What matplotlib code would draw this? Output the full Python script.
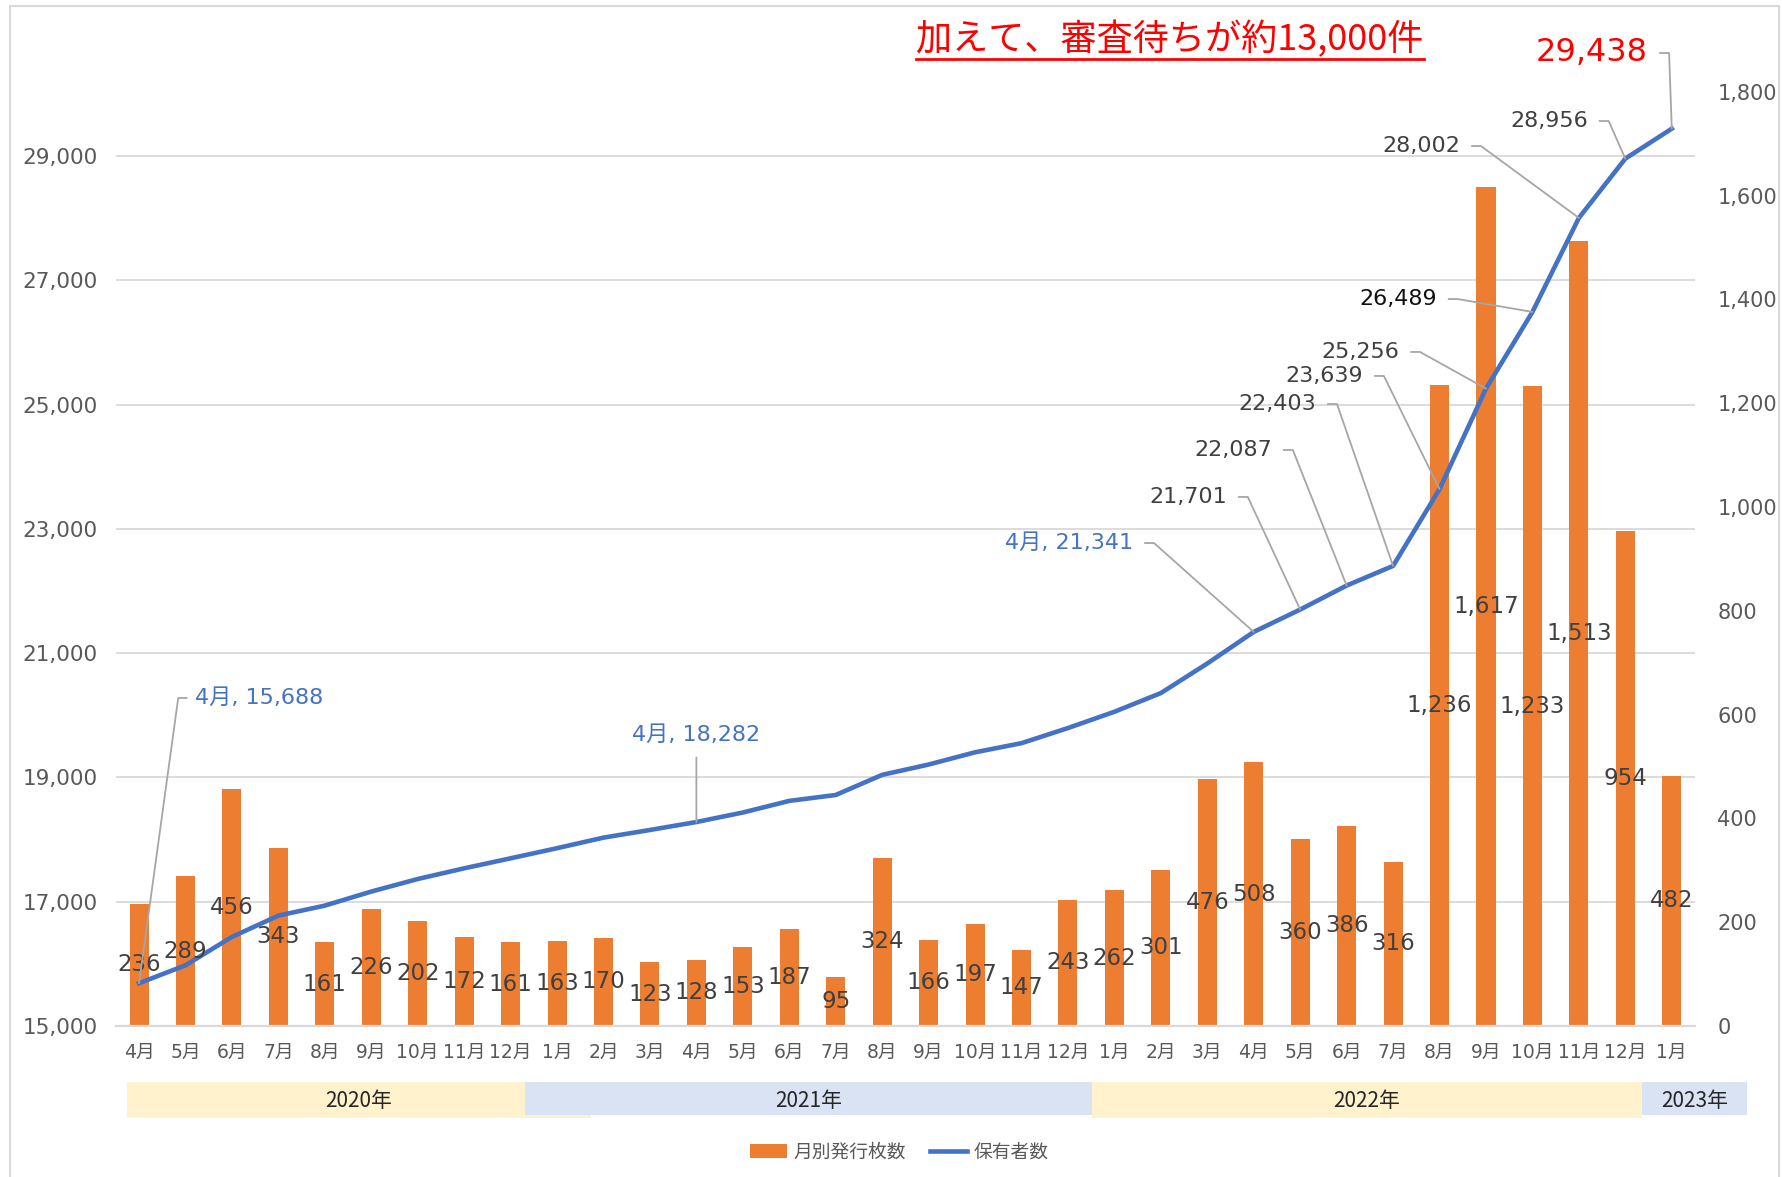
import matplotlib
matplotlib.use('Agg')
import matplotlib.pyplot as plt
from matplotlib.patches import Rectangle, Patch
from matplotlib.lines import Line2D
from matplotlib.transforms import blended_transform_factory
from matplotlib.ticker import FuncFormatter

# ---------------- data ----------------
months = ['4月', '5月', '6月', '7月', '8月', '9月', '10月', '11月', '12月',
          '1月', '2月', '3月', '4月', '5月', '6月', '7月', '8月', '9月', '10月', '11月', '12月',
          '1月', '2月', '3月', '4月', '5月', '6月', '7月', '8月', '9月', '10月', '11月', '12月',
          '1月']
issued = [236, 289, 456, 343, 161, 226, 202, 172, 161,
          163, 170, 123, 128, 153, 187, 95, 324, 166, 197, 147, 243,
          262, 301, 476, 508, 360, 386, 316, 1236, 1617, 1233, 1513, 954,
          482]
holders = [15688, 15977, 16433, 16776, 16937, 17163, 17365, 17537, 17698,
           17861, 18031, 18154, 18282, 18435, 18622, 18717, 19041, 19207, 19404, 19551, 19794,
           20056, 20357, 20833, 21341, 21701, 22087, 22403, 23639, 25256, 26489, 28002, 28956,
           29438]
left_ticks = [15000, 17000, 19000, 21000, 23000, 25000, 27000, 29000]
right_ticks = [0, 200, 400, 600, 800, 1000, 1200, 1400, 1600, 1800]
years = ['2020年', '2021年', '2022年', '2023年']
series_names = ['月別発行枚数', '保有者数']
title = '加えて、審査待ちが約13,000件'

# ---------------- style ----------------
ORANGE = '#ED7D31'
BLUE = '#4472C4'
GRID = '#D9D9D9'
TICK = '#595959'
LBL = '#404040'
LEAD = '#A6A6A6'
YELLOW = '#FFF2CC'
LBLUE = '#DAE3F3'

plt.rcParams['font.family'] = ['DejaVu Sans', 'Noto Sans CJK JP']
CJK = ['Noto Sans CJK JP', 'DejaVu Sans']

W, H = 1782, 1177
fig = plt.figure(figsize=(W / 100, H / 100), dpi=100)
ax = fig.add_axes([115.8 / W, 1 - 1026 / H, (1695 - 115.8) / W, (1026 - 31.6) / H])
ax2 = ax.twinx()

x = list(range(len(months)))

# bars on the (right-axis) bar axes
ax.bar(x, issued, width=0.41, color=ORANGE, zorder=2)
ax.set_xlim(-0.5, len(months) - 0.5)
ax.set_ylim(0, 1916)
ax2.set_ylim(15000, 31000)

# horizontal gridlines of left axis, drawn behind bars
ax.hlines(left_ticks, -0.5, len(months) - 0.5, transform=ax2.transData,
          colors=GRID, linewidth=1.3, zorder=0)

# line
ax2.plot(x, holders, color=BLUE, lw=3.3, zorder=3, solid_joinstyle='round')

# axes formatting
fmt = FuncFormatter(lambda v, p: f'{int(v):,}')
ax.yaxis.tick_right()
ax.set_yticks(right_ticks)
ax.yaxis.set_major_formatter(fmt)
ax.tick_params(axis='y', length=0, pad=16, labelsize=15, labelcolor=TICK)
ax.set_xticks(x, months)
ax.tick_params(axis='x', length=0, pad=12, labelsize=13.5, labelcolor=TICK)

ax2.yaxis.set_ticks_position('left')
ax2.set_yticks(left_ticks)
ax2.yaxis.set_major_formatter(fmt)
ax2.tick_params(axis='y', length=0, pad=13, labelsize=15.5, labelcolor=TICK,
                labelleft=True, labelright=False)

for s in ax.spines.values():
    s.set_visible(False)
for s in ax2.spines.values():
    s.set_visible(False)
ax.spines['bottom'].set_visible(True)
ax.spines['bottom'].set_color(GRID)
ax.spines['bottom'].set_linewidth(1.6)

# bar value labels (centered in bars), drawn above the line
for i, v in enumerate(issued):
    ax2.text(i, v / 2, f'{v:,}', transform=ax.transData, ha='center', va='center',
             fontsize=16.5, color=LBL, zorder=5)

# line value labels with leader lines: (index, text x, text y, ha, color, size, prefix)
line_labels = [
    (0, 1.21, 20278, 'left', BLUE, 16, True),
    (12, 12.0, 19682, 'center', BLUE, 16, True),
    (24, 21.40, 22771, 'right', BLUE, 16, True),
    (25, 23.42, 23512, 'right', LBL, 16, False),
    (26, 24.39, 24268, 'right', LBL, 16, False),
    (27, 25.34, 25008, 'right', LBL, 16, False),
    (28, 26.35, 25459, 'right', LBL, 16, False),
    (29, 27.13, 25845, 'right', LBL, 16, False),
    (30, 27.94, 26697, 'right', '#111111', 16, False),
    (31, 28.44, 29159, 'right', LBL, 16, False),
    (32, 31.19, 29561, 'right', LBL, 16, False),
    (33, 32.49, 30656, 'right', '#FF0000', 23, False),
]
for i, tx, ty, ha, col, fs, pre in line_labels:
    txt = f'{months[i]}, {holders[i]:,}' if pre else f'{holders[i]:,}'
    if ha == 'right':
        rp, cs, sa = (1, 0.5), 'arc,angleA=0,armA=21,angleB=0,armB=0,rad=0', 6.5
    elif ha == 'left':
        rp, cs, sa = (0, 0.5), 'arc,angleA=180,armA=17,angleB=0,armB=0,rad=0', 4
    else:
        rp, cs, sa = (0.5, 0), 'arc3', 7
    ax2.annotate(txt, xy=(i, holders[i]), xytext=(tx, ty), ha=ha, va='center',
                 fontsize=fs, color=col, zorder=6,
                 arrowprops=dict(arrowstyle='-', color=LEAD, lw=1.3, relpos=rp,
                                 connectionstyle=cs, shrinkA=sa, shrinkB=0))

# year bands under the axis (x in category units, y in figure fraction)
band_x = [(-0.26, 9.73), (8.31, 20.52), (20.52, 32.36), (32.36, 34.62)]
band_c = [YELLOW, LBLUE, YELLOW, LBLUE]
trb = blended_transform_factory(ax.transData, fig.transFigure)
for (x0, x1), c, yr in zip(band_x, band_c, years):
    y0 = 1 - (1118 if c == YELLOW else 1115) / H
    y1 = 1 - 1082 / H
    ax.add_patch(Rectangle((x0, y0), x1 - x0, y1 - y0, transform=trb,
                           facecolor=c, edgecolor='none', clip_on=False, zorder=1))
    ax.text((x0 + x1) / 2, 1 - 1101 / H, yr, transform=trb, ha='center', va='center',
            fontsize=15, color='#262626', family=CJK, zorder=2, clip_on=False)

# legend
handles = [Patch(facecolor=ORANGE, edgecolor='none'),
           Line2D([], [], color=BLUE, lw=3.3)]
fig.legend(handles, series_names, loc='center', bbox_to_anchor=(899 / W, 1 - 1152 / H),
           ncol=2, frameon=False, prop={'family': CJK, 'size': 13.5},
           handlelength=2.0, handletextpad=0.3, columnspacing=1.3, labelcolor=TICK)

# title with underline
t = fig.text(1170 / W, 1 - 40 / H, title, fontsize=26, color='#FF0000', family=CJK,
             ha='center', va='center')
fig.canvas.draw()
bb = t.get_window_extent()
fig.add_artist(Line2D([bb.x0 / W, bb.x1 / W], [1 - 59 / H, 1 - 59 / H],
                      transform=fig.transFigure, color='#FF0000', lw=2))

# chart border
fig.add_artist(Rectangle((10 / W, -0.01), (1779 - 10) / W, 1 - 6 / H + 0.01,
                         transform=fig.transFigure, fill=False, edgecolor=GRID, lw=1.5))

fig.savefig('out.png', dpi=100)
